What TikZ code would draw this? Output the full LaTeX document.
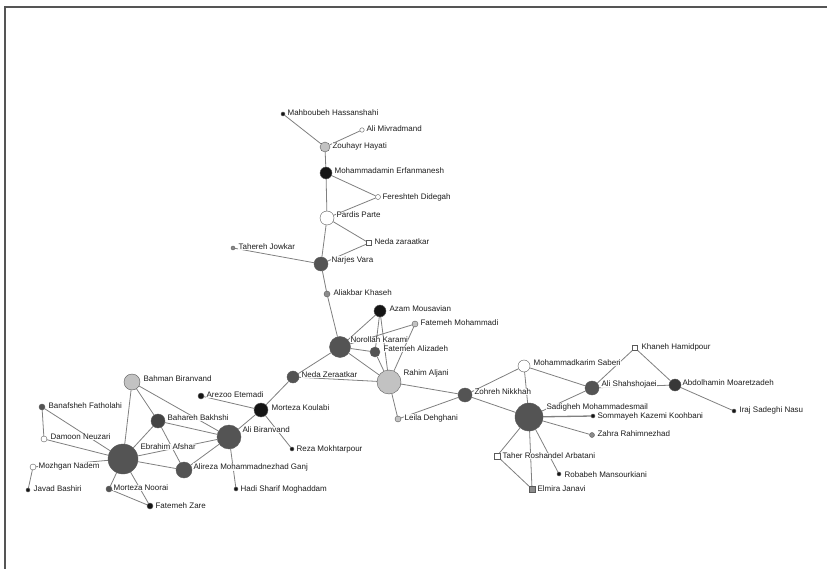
\documentclass[tikz,border=0pt]{standalone}
\usepackage{fontspec}
\setmainfont{Liberation Sans}
\definecolor{cblack}{HTML}{151515}
\definecolor{cdark}{HTML}{545454}
\definecolor{clight}{HTML}{C2C2C2}
\definecolor{cgray}{HTML}{8C8C8C}
\definecolor{cedge}{HTML}{808080}
\definecolor{cbord}{HTML}{5A5A5A}
\definecolor{ctext}{HTML}{1E1E1E}
\definecolor{cframe}{HTML}{555555}
\pgfdeclarelayer{bg}
\pgfdeclarelayer{edges}
\pgfsetlayers{bg,edges,main}
\tikzset{
  nd/.style={circle, draw=cbord, line width=0.4pt, inner sep=0pt},
  sq/.style={rectangle, draw=cbord, line width=0.4pt, inner sep=0pt, fill=white},
  lbl/.style={anchor=west, inner sep=0.4pt, fill=white, fill opacity=0.9, text opacity=1,
    text=ctext, font=\fontsize{8}{9}\selectfont},
  edge/.style={draw=cedge, line width=0.8pt}
}
\begin{document}
\begin{tikzpicture}[x=1pt,y=-1pt]
\useasboundingbox (0,0) rectangle (827,569);
\begin{pgfonlayer}{bg}
\fill[white] (0,0) rectangle (827,569);
\end{pgfonlayer}
\draw[line width=2pt, cframe] (5,569) -- (5,7.5) -- (827,7.5);

% top chain
\node[nd, minimum size=4pt, fill=cblack] (mah) at (283,114) {};
\node[nd, minimum size=4.5pt, fill=white] (alim) at (362,130) {};
\node[nd, minimum size=10pt, fill=clight] (zou) at (325,147) {};
\node[nd, minimum size=12pt, fill=cblack] (moh) at (326,173) {};
\node[nd, minimum size=5pt, fill=white] (fer) at (378,197) {};
\node[nd, minimum size=14pt, fill=white] (par) at (327,218) {};
\node[sq, minimum size=5pt] (nz) at (369,243) {};
\node[nd, minimum size=4pt, fill=cgray] (tah) at (233,248) {};
\node[nd, minimum size=14pt, fill=cdark] (nar) at (321,264) {};
\node[nd, minimum size=6pt, fill=cgray] (ak) at (327,294) {};
\node[nd, minimum size=12pt, fill=cblack] (az) at (380,311) {};
\node[nd, minimum size=6pt, fill=clight] (fm) at (415,324) {};
\node[nd, minimum size=21pt, fill=cdark] (nk) at (340,347) {};
\node[nd, minimum size=10pt, fill=cdark] (fa) at (375,352) {};
\node[nd, minimum size=12pt, fill=cdark] (ndz) at (293,377) {};
\node[nd, minimum size=24pt, fill=clight] (ra) at (389,382) {};
\node[nd, minimum size=6pt, fill=clight] (ld) at (398,419) {};
\node[nd, minimum size=14pt, fill=cdark] (zn) at (465,395) {};
\node[nd, minimum size=12pt, fill=white] (ms) at (524,366) {};
\node[nd, minimum size=14pt, fill=cdark] (ash) at (592,388) {};
\node[sq, minimum size=5pt] (kh) at (635,348) {};
\node[nd, minimum size=12pt, fill=cblack!85] (ab) at (675,385) {};
\node[nd, minimum size=4pt, fill=cblack] (ir) at (734,411) {};
\node[nd, minimum size=28pt, fill=cdark] (sm) at (529,417) {};
\node[nd, minimum size=4pt, fill=cblack] (sk) at (593,416) {};
\node[nd, minimum size=5pt, fill=cgray] (zr) at (592,435) {};
\node[sq, minimum size=5.5pt] (ta) at (497,456) {};
\node[nd, minimum size=4pt, fill=cblack] (rm) at (559,474) {};
\node[sq, minimum size=5.5pt, fill=cgray] (ej) at (532,489) {};

% left cluster
\node[nd, minimum size=16pt, fill=clight] (bb) at (132,382) {};
\node[nd, minimum size=6pt, fill=cdark] (bf) at (42,407) {};
\node[nd, minimum size=6pt, fill=cblack] (ae) at (201,396) {};
\node[nd, minimum size=14pt, fill=cblack] (mk) at (261,410) {};
\node[nd, minimum size=14pt, fill=cblack!80] (bk) at (158,421) {};
\node[nd, minimum size=24pt, fill=cdark] (alib) at (229,437) {};
\node[nd, minimum size=6pt, fill=white] (dn) at (44,439) {};
\node[nd, minimum size=30pt, fill=cdark] (ea) at (123,459) {};
\node[nd, minimum size=6pt, fill=white] (mn) at (33,467) {};
\node[nd, minimum size=4pt, fill=cblack] (jb) at (28,490) {};
\node[nd, minimum size=6pt, fill=cdark] (mno) at (109,489) {};
\node[nd, minimum size=6pt, fill=cblack] (fz) at (150,506) {};
\node[nd, minimum size=16pt, fill=cdark] (am) at (184,470) {};
\node[nd, minimum size=4pt, fill=cblack] (hs) at (236,489) {};
\node[nd, minimum size=4pt, fill=cblack] (rmk) at (292,449) {};

% labels
\node[lbl] (mah-l) at (287,113) {Mahboubeh Hassanshahi};
\node[lbl] (alim-l) at (366,129) {Ali Mivradmand};
\node[lbl] (zou-l) at (332,146) {Zouhayr Hayati};
\node[lbl] (moh-l) at (334,171) {Mohammadamin Erfanmanesh};
\node[lbl] (fer-l) at (382,197) {Fereshteh Didegah};
\node[lbl] (par-l) at (336,215) {Pardis Parte};
\node[lbl] (nz-l) at (374,242) {Neda zaraatkar};
\node[lbl] (tah-l) at (238,247) {Tahereh Jowkar};
\node[lbl] (nar-l) at (331,260) {Narjes Vara};
\node[lbl] (ak-l) at (333,293) {Aliakbar Khaseh};
\node[lbl] (az-l) at (389,309) {Azam Mousavian};
\node[lbl] (fm-l) at (420,323) {Fatemeh Mohammadi};
\node[lbl] (nk-l) at (350,340) {Norollah Karami};
\node[lbl] (fa-l) at (383,349) {Fatemeh Alizadeh};
\node[lbl] (ndz-l) at (301,375) {Neda Zeraatkar};
\node[lbl] (ra-l) at (403,373) {Rahim Aljani};
\node[lbl] (ld-l) at (404,418) {Leila Dehghani};
\node[lbl] (zn-l) at (474,392) {Zohreh Nikkhah};
\node[lbl] (ms-l) at (533,363) {Mohammadkarim Saberi};
\node[lbl] (ash-l) at (601,384) {Ali Shahshojaei};
\node[lbl] (kh-l) at (641,347) {Khaneh Hamidpour};
\node[lbl] (ab-l) at (682,383) {Abdolhamin Moaretzadeh};
\node[lbl] (ir-l) at (739,410) {Iraj Sadeghi Nasu};
\node[lbl] (sm-l) at (546,407) {Sadigheh Mohammadesmail};
\node[lbl] (sk-l) at (597,416) {Sommayeh Kazemi Koohbani};
\node[lbl] (zr-l) at (597,434) {Zahra Rahimnezhad};
\node[lbl] (ta-l) at (502,456) {Taher Roshandel Arbatani};
\node[lbl] (rm-l) at (564,475) {Robabeh Mansourkiani};
\node[lbl] (ej-l) at (537,489) {Elmira Janavi};
\node[lbl] (bb-l) at (143,379) {Bahman Biranvand};
\node[lbl] (bf-l) at (48,406) {Banafsheh Fatholahi};
\node[lbl] (ae-l) at (206,395) {Arezoo Etemadi};
\node[lbl] (mk-l) at (271,408) {Morteza Koulabi};
\node[lbl] (bk-l) at (167,418) {Bahareh Bakhshi};
\node[lbl] (alib-l) at (242,430) {Ali Biranvand};
\node[lbl] (dn-l) at (50,437) {Damoon Neuzari};
\node[lbl] (ea-l) at (140,447) {Ebrahim Afshar};
\node[lbl] (mn-l) at (38,466) {Mozhgan Nadem};
\node[lbl] (jb-l) at (33,489) {Javad Bashiri};
\node[lbl] (mno-l) at (113,488) {Morteza Noorai};
\node[lbl] (fz-l) at (155,506) {Fatemeh Zare};
\node[lbl] (am-l) at (193,467) {Alireza Mohammadnezhad Ganj};
\node[lbl] (hs-l) at (240,489) {Hadi Sharif Moghaddam};
\node[lbl] (rmk-l) at (296,449) {Reza Mokhtarpour};

\begin{pgfonlayer}{edges}
\foreach \a/\b in {mah/zou, alim/zou, zou/moh, moh/fer, moh/par, fer/par, par/nz, par/nar,
  nz/nar, tah/nar, nar/ak, ak/nk, nk/az, nk/fm, nk/fa, nk/ra, nk/ndz, az/fa, az/ra, fm/ra,
  fa/ra, ndz/ra, ndz/mk, ra/ld, ra/zn, zn/ld, zn/ms, zn/sm, ms/sm, ms/ash, ash/sm, ash/kh,
  kh/ab, ab/ash, ab/ir, sm/zr, sm/ta, sm/ej, sm/rm, ta/ej, mk/ae, mk/alib, mk/rmk,
  bb/bk, bb/alib, bb/ea, bf/dn, bf/ea, dn/ea, mn/jb, mn/ea, bk/ea, bk/alib, bk/am,
  ea/alib, ea/am, ea/mno, ea/fz, mno/fz, am/alib, alib/hs}
  \draw[edge] (\a) -- (\b);
\draw[edge, line width=1.3pt] (sm) -- (sk);
\end{pgfonlayer}
\end{tikzpicture}
\end{document}
